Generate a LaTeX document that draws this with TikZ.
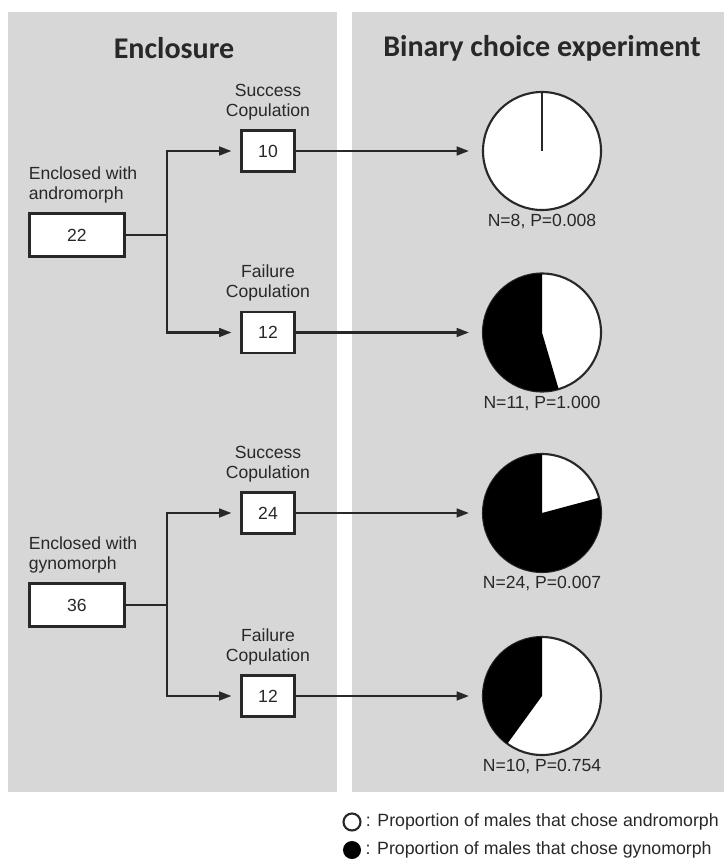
\documentclass[tikz,border=0pt]{standalone}
\usepackage{fontspec}
\setmainfont{Liberation Sans}
\newfontfamily\titlefont{Carlito}
\usetikzlibrary{positioning,arrows.meta}

\definecolor{panelgray}{RGB}{215,215,215}
\definecolor{inkgray}{RGB}{40,40,40}

\begin{document}
\begin{tikzpicture}[font=\fontsize{10}{11.6}\selectfont, text=inkgray,
    numbox/.style={draw=inkgray, line width=1.2pt, fill=white, minimum width=1.06cm, minimum height=0.82cm, inner sep=0pt},
    bigbox/.style={numbox, minimum width=1.9cm, minimum height=0.86cm},
    pie/.style={circle, draw=inkgray, line width=1.2pt, fill=white, minimum size=2.36cm, inner sep=0pt},
    lbl/.style={align=center, inner sep=0pt},
    heading/.style={font=\titlefont\bfseries\fontsize{17.1}{19}\selectfont},
    link/.style={draw=inkgray, line width=1.2pt},
    arr/.style={link, -{Triangle[length=7pt,width=5pt]}}]
\useasboundingbox (0,0) rectangle (14.48,-17.24);

% Panels
\fill[panelgray] (0.16,-0.24) rectangle (6.74,-15.84);
\fill[panelgray] (7.04,-0.24) rectangle (14.48,-15.84);
\node[heading] (hencl) at (3.48,-0.96) {Enclosure};
\node[heading] (hbin) at (10.84,-0.96) {Binary choice experiment};

% Enclosed with andromorph
\node[bigbox] (n22) at (1.54,-4.70) {22};
\node[lbl, align=left, above=0.18cm of n22.north west, anchor=south west] (t22) {Enclosed with\\andromorph};
\node[numbox] (n10) at (5.36,-3.02) {10};
\node[lbl, above=0.18cm of n10] (t10) {Success\\Copulation};
\node[numbox] (n12a) at (5.36,-6.65) {12};
\node[lbl, above=0.18cm of n12a] (t12a) {Failure\\Copulation};
\coordinate (j1) at (3.34,-4.70);
\draw[link] (n22) -- (j1);
\draw[arr, shorten >=0.18cm] (j1) |- (n10);
\draw[arr, shorten >=0.18cm] (j1) |- (n12a);

% Enclosed with gynomorph
\node[bigbox] (n36) at (1.54,-12.10) {36};
\node[lbl, align=left, above=0.18cm of n36.north west, anchor=south west] (t36) {Enclosed with\\gynomorph};
\node[numbox] (n24) at (5.36,-10.26) {24};
\node[lbl, above=0.18cm of n24] (t24) {Success\\Copulation};
\node[numbox] (n12b) at (5.36,-13.92) {12};
\node[lbl, above=0.18cm of n12b] (t12b) {Failure\\Copulation};
\coordinate (j2) at (3.34,-12.10);
\draw[link] (n36) -- (j2);
\draw[arr, shorten >=0.18cm] (j2) |- (n24);
\draw[arr, shorten >=0.18cm] (j2) |- (n12b);

% Pies (white = andromorph, black = gynomorph)
\node[pie] (p1) at (10.84,-3.02) {};
\draw[link] (p1.center) -- ++(0,1.18);
\node[pie] (p2) at (10.84,-6.65) {};
\fill[black] (p2.center) -- ++(90:1.18) arc[start angle=90, end angle=286.4, radius=1.18] -- cycle;
\node[pie] (p3) at (10.84,-10.26) {};
\fill[black] (p3.center) -- ++(90:1.18) arc[start angle=90, end angle=375, radius=1.18] -- cycle;
\node[pie] (p4) at (10.84,-13.92) {};
\fill[black] (p4.center) -- ++(90:1.18) arc[start angle=90, end angle=234, radius=1.18] -- cycle;

\node[lbl, below=0.06cm of p1] (s1) {N=8, P=0.008};
\node[lbl, below=0.06cm of p2] (s2) {N=11, P=1.000};
\node[lbl, below=0.06cm of p3] (s3) {N=24, P=0.007};
\node[lbl, below=0.06cm of p4] (s4) {N=10, P=0.754};

\draw[arr, shorten >=0.26cm] (n10) -- (p1);
\draw[arr, shorten >=0.26cm] (n12a) -- (p2);
\draw[arr, shorten >=0.26cm] (n24) -- (p3);
\draw[arr, shorten >=0.26cm] (n12b) -- (p4);

% Legend
\node[circle, draw=inkgray, line width=1.2pt, fill=white, minimum size=0.34cm, inner sep=0pt] (l1) at (7.04,-16.44) {};
\node[lbl, font=\fontsize{10.1}{12}\selectfont, right=0.08cm of l1] (lt1) {: Proportion of males that chose andromorph};
\node[circle, fill=black, minimum size=0.36cm, inner sep=0pt] (l2) at (7.04,-17.0) {};
\node[lbl, font=\fontsize{10.1}{12}\selectfont, right=0.08cm of l2] (lt2) {: Proportion of males that chose gynomorph};
\end{tikzpicture}
\end{document}
